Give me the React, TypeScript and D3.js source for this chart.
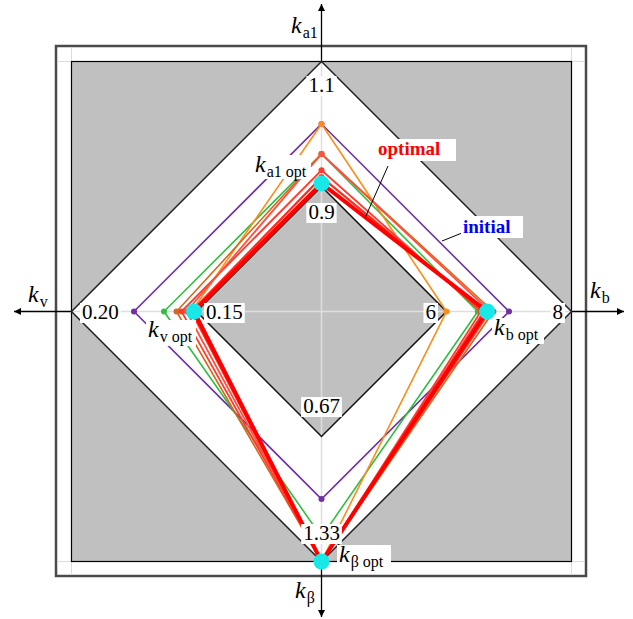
import React from "react";
import * as d3 from "d3";

// ---- data ----
const axisKeys = ["ka1", "kb", "kbeta", "kv"];
const innerValues = [0.9, 6, 0.67, 0.15];
const outerValues = [1.1, 8, 1.33, 0.2];
const innerLabels = ["0.9", "6", "0.67", "0.15"];
const outerLabels = ["1.1", "8", "1.33", "0.20"];

const initialSeries = [1.0, 7.0, 1.0, 0.175];
const greenSeries = [0.952, 6.5, 1.2, 0.163];
const orangeSeries = [1.0, 6.0, 1.33, 0.152];
const brownSeries = [0.952, 6.75, 1.33, 0.158];
const red1Series = [0.926, 6.55, 1.33, 0.156];
const red2Series = [0.952, 6.7, 1.33, 0.154];
const red3Series = [0.915, 6.6, 1.33, 0.152];
const optimalSeries = [0.905, 6.65, 1.33, 0.151];

const W = 633;
const H = 619;
const cx = 321.5;
const cy = 311.5;
const rIn = 125;
const rOut = 250;
const dirs: [number, number][] = [
  [0, -1],
  [1, 0],
  [0, 1],
  [-1, 0],
];
const scales = axisKeys.map((_, i) =>
  d3.scaleLinear().domain([innerValues[i], outerValues[i]]).range([rIn, rOut])
);
const pt = (i: number, v: number): [number, number] => {
  const d = scales[i](v);
  return [cx + dirs[i][0] * d, cy + dirs[i][1] * d];
};
const diamond = (r: number): [number, number][] =>
  dirs.map(([dx, dy]) => [cx + dx * r, cy + dy * r]);
const line = d3.line<[number, number]>().curve(d3.curveLinearClosed);

const serif = "'Liberation Serif', 'Times New Roman', serif";

const seriesList = [
  { vals: initialSeries, color: "#7030a0", w: 1.6 },
  { vals: greenSeries, color: "#2fbf3f", w: 1.6 },
  { vals: orangeSeries, color: "#ff8c1a", w: 1.6 },
  { vals: brownSeries, color: "#d2691e", w: 1.6 },
  { vals: red1Series, color: "#ff3b2f", w: 1.8 },
  { vals: red2Series, color: "#ff5040", w: 1.8 },
  { vals: red3Series, color: "#ff2a1a", w: 2.2 },
  { vals: optimalSeries, color: "#ff0000", w: 4 },
];

const charW = (s: string, fs: number) =>
  s.split("").reduce((a, c) => a + (c === "." ? 0.25 : 0.5) * fs, 0);

function ValueLabel({ text, x, y, anchor }: { text: string; x: number; y: number; anchor: "start" | "middle" | "end" }) {
  const fs = 21;
  const w = charW(text, fs);
  const x0 = anchor === "start" ? x : anchor === "middle" ? x - w / 2 : x - w;
  return (
    <g>
      <rect x={x0 - 2} y={y - 16} width={w + 4} height={20} fill="#fff" />
      <text x={x} y={y} textAnchor={anchor} fontFamily={serif} fontSize={fs} fill="#000">
        {text}
      </text>
    </g>
  );
}

function KLabel({ x, y, sub, box }: { x: number; y: number; sub: string; box?: [number, number] }) {
  return (
    <g>
      {box && <rect x={x - 2} y={y - 17} width={box[0]} height={box[1]} fill="#fff" />}
      <text x={x} y={y} fontFamily={serif} fontSize={24} fill="#000">
        <tspan fontStyle="italic">k</tspan>
        <tspan fontSize={16} dx={1} dy={5}>
          {sub}
        </tspan>
      </text>
    </g>
  );
}

export default function App() {
  const outer = diamond(rOut);
  const inner = diamond(rIn);
  const optPts = optimalSeries.map((v, i) => pt(i, v));
  const labelPos = [
    { o: [cx, 92, "middle"], n: [cx, 219, "middle"] },
    { o: [563, cy + 7.5, "end"], n: [436, cy + 7.5, "end"] },
    { o: [cx, 540, "middle"], n: [cx, 413, "middle"] },
    { o: [82, cy + 7.5, "start"], n: [206, cy + 7.5, "start"] },
  ];
  return (
    <svg width={W} height={H} style={{ position: "absolute", left: 0, top: 0 }}>
      <defs>
        <marker id="arr" viewBox="0 0 10 10" refX="10" refY="5" markerWidth="11" markerHeight="7" markerUnits="userSpaceOnUse" orient="auto">
          <path d="M0,0 L10,5 L0,10 Z" fill="#000" />
        </marker>
      </defs>
      <rect width={W} height={H} fill="#fff" />
      {/* frame */}
      <rect x={56} y={46} width={530} height={530} fill="#fff" stroke="#4a4a4a" strokeWidth={2.5} />
      {/* faint grid extensions */}
      {[71.5, 571.5].map((x) => (
        <line key={"gx" + x} x1={x} x2={x} y1={47} y2={575} stroke="#dcdcdc" strokeWidth={1} />
      ))}
      {[61.5, 561.5].map((y) => (
        <line key={"gy" + y} x1={57} x2={585} y1={y} y2={y} stroke="#dcdcdc" strokeWidth={1} />
      ))}
      <rect x={71.5} y={61.5} width={500} height={500} fill="#c0c0c0" stroke="#000" strokeWidth={1.2} />
      <path d={line(outer) || ""} fill="#fff" stroke="none" />
      <path d={line(inner) || ""} fill="#c0c0c0" stroke="none" />
      {/* axes outside */}
      <line x1={cx} x2={cx} y1={cy - rOut} y2={4} stroke="#000" strokeWidth={1.3} markerEnd="url(#arr)" />
      <line x1={cx} x2={cx} y1={cy + rOut} y2={617} stroke="#000" strokeWidth={1.3} markerEnd="url(#arr)" />
      <line x1={cx - rOut} x2={14} y1={cy} y2={cy} stroke="#000" strokeWidth={1.3} markerEnd="url(#arr)" />
      <line x1={cx + rOut} x2={624} y1={cy} y2={cy} stroke="#000" strokeWidth={1.3} markerEnd="url(#arr)" />
      {/* axes inside */}
      <line x1={cx} x2={cx} y1={cy - rOut} y2={cy + rOut} stroke="#dedede" strokeWidth={1.5} />
      <line x1={cx - rOut} x2={cx + rOut} y1={cy} y2={cy} stroke="#dedede" strokeWidth={1.5} />
      <path d={line(outer) || ""} fill="none" stroke="#222" strokeWidth={1.5} />
      <path d={line(inner) || ""} fill="none" stroke="#111" strokeWidth={1.5} />
      {/* series */}
      {seriesList.map((s, k) => {
        const pts = s.vals.map((v, i) => pt(i, v));
        return (
          <g key={"s" + k}>
            <path d={line(pts) || ""} fill="none" stroke={s.color} strokeWidth={s.w} strokeLinejoin="miter" />
            {k < seriesList.length - 1 &&
              pts.map((p, i) => <circle key={i} cx={p[0]} cy={p[1]} r={3} fill={s.color} />)}
          </g>
        );
      })}
      {/* value labels */}
      {labelPos.map((p, i) => (
        <g key={"lab" + i}>
          <ValueLabel text={outerLabels[i]} x={p.o[0] as number} y={p.o[1] as number} anchor={p.o[2] as any} />
          <ValueLabel text={innerLabels[i]} x={p.n[0] as number} y={p.n[1] as number} anchor={p.n[2] as any} />
        </g>
      ))}
      {optPts.map((p, i) => (
        <circle key={"c" + i} cx={p[0]} cy={p[1]} r={8} fill="#19e8e8" />
      ))}
      {/* axis titles */}
      <KLabel x={291} y={33} sub="a1" />
      <KLabel x={28} y={302} sub="v" />
      <KLabel x={590} y={298} sub="b" />
      <KLabel x={295} y={598} sub="β" />
      {/* optimum labels */}
      <KLabel x={255} y={172} sub="a1 opt" box={[58, 24]} />
      <KLabel x={148} y={337} sub="v opt" box={[50, 26]} />
      <KLabel x={494} y={335} sub="b opt" box={[52, 26]} />
      <KLabel x={339} y={562} sub="β opt" box={[54, 26]} />
      {/* annotations */}
      <line x1={388} y1={166} x2={365} y2={218} stroke="#000" strokeWidth={1} />
      <rect x={376} y={139} width={80} height={22} fill="#fff" />
      <text x={378} y={155} fontFamily={serif} fontSize={19} fontWeight="bold" fill="#ff0000">
        optimal
      </text>
      <line x1={462} y1={233} x2={442} y2={241} stroke="#000" strokeWidth={1} />
      <rect x={461} y={216} width={62} height={22} fill="#fff" />
      <text x={463} y={233} fontFamily={serif} fontSize={19} fontWeight="bold" fill="#0000ff">
        initial
      </text>
    </svg>
  );
}
